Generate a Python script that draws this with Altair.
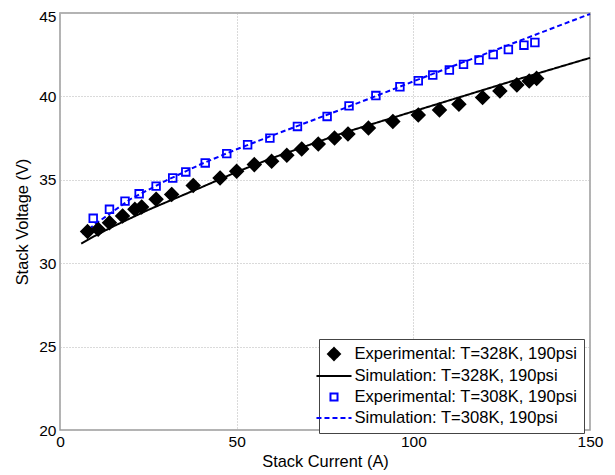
import altair as alt
import pandas as pd

# Experimental data, T=328K
exp328_I = [7.8, 10.8, 14.0, 17.7, 21.2, 23.1, 27.2, 31.6, 37.7, 45.3, 50.0, 55.0, 59.9, 64.2,
            68.4, 73.1, 77.7, 81.5, 87.3, 94.2, 101.4, 107.4, 112.9, 119.6, 124.5, 129.3, 132.8, 134.9]
exp328_V = [31.9, 32.03, 32.43, 32.83, 33.23, 33.37, 33.84, 34.12, 34.66, 35.11, 35.51, 35.91, 36.11, 36.47,
            36.85, 37.14, 37.5, 37.75, 38.1, 38.5, 38.89, 39.19, 39.53, 39.93, 40.33, 40.69, 40.92, 41.08]

# Experimental data, T=308K
exp308_I = [9.4, 14.0, 18.4, 22.4, 27.2, 31.9, 35.6, 41.1, 47.2, 53.1, 59.4, 67.2, 75.6, 81.8,
            89.4, 96.2, 101.4, 105.5, 110.2, 114.2, 118.6, 122.6, 126.9, 131.3, 134.4]
exp308_V = [32.69, 33.23, 33.72, 34.16, 34.62, 35.11, 35.47, 36.01, 36.57, 37.10, 37.50, 38.20, 38.80, 39.43,
            40.05, 40.58, 40.94, 41.28, 41.58, 41.92, 42.18, 42.51, 42.81, 43.07, 43.23]

# Simulation, T=328K
sim328_I = [6, 10, 15, 20, 25, 30, 40, 50, 60, 70, 80, 90, 100, 110, 120, 130, 140, 150]
sim328_V = [31.18, 31.65, 32.2, 32.7, 33.2, 33.65, 34.55, 35.47, 36.3, 37.05, 37.8, 38.45, 39.1,
            39.75, 40.4, 41.05, 41.68, 42.31]

# Simulation, T=308K
sim308_I = [6.4, 10, 15, 20, 30, 40, 50, 60, 70, 80, 90, 100, 110, 120, 130, 140, 150]
sim308_V = [31.74, 32.35, 33.1, 33.85, 34.95, 35.95, 36.83, 37.65, 38.45, 39.25, 40.07, 40.9,
            41.72, 42.52, 43.33, 44.14, 44.94]

series_names = [
    "Experimental: T=328K, 190psi",
    "Simulation: T=328K, 190psi",
    "Experimental: T=308K, 190psi",
    "Simulation: T=308K, 190psi",
]
x_ticks = [0, 50, 100, 150]
y_ticks = [20, 25, 30, 35, 40, 45]

rows = []
for name, xs, ys, kind in [
    (series_names[0], exp328_I, exp328_V, "exp"),
    (series_names[1], sim328_I, sim328_V, "sim"),
    (series_names[2], exp308_I, exp308_V, "exp"),
    (series_names[3], sim308_I, sim308_V, "sim"),
]:
    for a, v in zip(xs, ys):
        rows.append({"series": name, "I": a, "V": v, "kind": kind})
df = pd.DataFrame(rows)

FONT = "Liberation Sans"

# symbol shapes (unit box -1..1), relative sizes set by the path itself
DIAMOND = "M0,-0.75L0.75,0L0,0.75L-0.75,0Z"
SQUARE = "M-0.44,-0.44H0.44V0.44H-0.44Z"
STROKE = "M-2.19,0H2.19"

x_enc = alt.X("I:Q", scale=alt.Scale(domain=[0, 150], nice=False),
              axis=alt.Axis(values=x_ticks, title="Stack Current (A)", labelFlush=False,
                            titlePadding=4, labelPadding=4))
y_enc = alt.Y("V:Q", scale=alt.Scale(domain=[20, 45], nice=False, zero=False),
              axis=alt.Axis(values=y_ticks, title="Stack Voltage (V)", labelFlush=False,
                            titlePadding=8, labelPadding=4,
                            labelOffset={"condition": {"test": "datum.value == 45", "value": 3},
                                         "value": 0}))

legend = alt.Legend(title=None, orient="none", legendX=259, legendY=326, padding=6,
                    strokeColor="#444444", fillColor="white", labelFontSize=16.6,
                    labelFont=FONT, labelColor="black", rowPadding=3,
                    symbolStrokeWidth=2, symbolSize=256,
                    labelLimit=400, labelOffset=11.5)

color = alt.Color("series:N", scale=alt.Scale(domain=series_names,
                                              range=["black", "black", "blue", "blue"]),
                  legend=legend)
shape = alt.Shape("series:N", scale=alt.Scale(domain=series_names,
                                              range=[DIAMOND, STROKE, SQUARE, STROKE]),
                  legend=legend)
fill = alt.Fill("series:N", scale=alt.Scale(domain=series_names,
                                            range=["black", "transparent", "transparent", "transparent"]),
                legend=legend)
dash = alt.StrokeDash("series:N", scale=alt.Scale(domain=series_names,
                                                  range=[[1, 0], [1, 0], [1, 0], [5, 3]]),
                      legend=legend)

lines = alt.Chart(df).transform_filter(alt.datum.kind == "sim").mark_line(strokeWidth=2).encode(
    x=x_enc, y=y_enc, color=color, strokeDash=dash
)
points = alt.Chart(df).transform_filter(alt.datum.kind == "exp").mark_point(
    strokeWidth=1.8, opacity=1, size=300
).encode(
    x=x_enc, y=y_enc, color=color, shape=shape, fill=fill
)

chart = alt.layer(lines, points).properties(
    width=530, height=417,
    autosize=alt.AutoSizeParams(type="none"),
    padding={"left": 52, "top": 5, "right": 15, "bottom": 42},
).configure_view(
    stroke="#9a9a9a", strokeWidth=1.5
).configure_axis(
    labelFont=FONT, titleFont=FONT, labelFontSize=15.5, titleFontSize=16.4,
    labelColor="black", titleColor="black", titleFontWeight="normal",
    domain=False, ticks=False, grid=True, gridColor="#b5b5b5", gridDash=[1, 2], gridWidth=1,
).configure_legend(
    labelFont=FONT
)

chart.save("out.html", embed_options={"renderer": "svg", "actions": False})
